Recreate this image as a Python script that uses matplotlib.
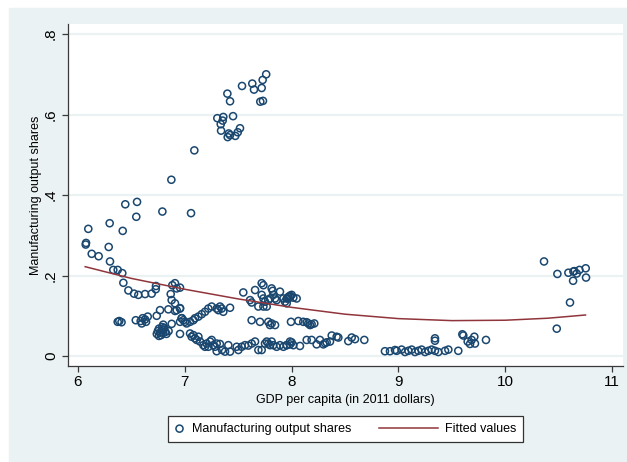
import numpy as np
import matplotlib
matplotlib.use("Agg")
import matplotlib.pyplot as plt
from matplotlib.patches import Rectangle
from matplotlib.legend_handler import HandlerLine2D

plt.rcParams['font.family'] = ['Liberation Sans', 'DejaVu Sans']

####### scatter data: log GDP per capita vs manufacturing output share
# high values, poorest countries
x_left = [6.876, 6.445, 6.555, 6.548, 6.792, 7.06, 6.299, 6.421, 6.099, 6.078,
          6.075, 6.29, 6.131, 6.196, 6.302, 6.333, 6.374, 6.417, 6.427, 7.091]
y_left = [0.438, 0.377, 0.383, 0.346, 0.359, 0.355, 0.330, 0.311, 0.316, 0.281,
          0.277, 0.271, 0.254, 0.248, 0.235, 0.214, 0.214, 0.206, 0.182, 0.511]

# top cluster
x_top = [7.763, 7.73, 7.633, 7.537, 7.649, 7.721, 7.40, 7.425, 7.708, 7.733, 7.306,
         7.362, 7.453, 7.356, 7.338, 7.341, 7.413, 7.425, 7.403, 7.474, 7.497, 7.518]
y_top = [0.700, 0.686, 0.677, 0.671, 0.662, 0.666, 0.652, 0.633, 0.632, 0.634, 0.591,
         0.594, 0.596, 0.585, 0.576, 0.560, 0.553, 0.549, 0.544, 0.547, 0.556, 0.566]

# lower left band
x_low = [6.474, 6.527, 6.567, 6.63, 6.692, 6.732, 6.73, 6.885, 6.91, 6.957, 6.926,
         6.87, 6.879, 6.91, 6.926, 6.91, 6.957, 6.77, 6.848, 6.739,
         6.374, 6.389, 6.41, 6.543, 6.589, 6.608, 6.63, 6.655, 6.599, 6.639,
         6.74, 6.75, 6.76, 6.77, 6.78, 6.79, 6.80, 6.81, 6.82, 6.83, 6.76, 6.79,
         6.85, 6.80, 6.957, 6.957, 6.973, 6.80, 6.879]
y_low = [0.163, 0.155, 0.152, 0.154, 0.155, 0.174, 0.166, 0.176, 0.181, 0.170, 0.168,
         0.154, 0.139, 0.131, 0.114, 0.112, 0.119, 0.114, 0.116, 0.100,
         0.085, 0.087, 0.084, 0.089, 0.087, 0.094, 0.091, 0.098, 0.081, 0.085,
         0.055, 0.062, 0.068, 0.058, 0.052, 0.065, 0.058, 0.070, 0.060, 0.055, 0.050, 0.072,
         0.062, 0.066, 0.055, 0.085, 0.094, 0.078, 0.080]

# middle-income countries
x_mid = [6.957, 6.973, 6.988, 7.004, 7.019, 7.051, 7.082, 7.097, 7.129, 7.160, 7.191,
         7.222, 7.253, 7.300, 7.316, 7.331, 7.347, 7.362, 7.425,
         7.051, 7.066, 7.082, 7.097, 7.113, 7.129, 7.144, 7.175, 7.191, 7.206, 7.222,
         7.238, 7.253, 7.269, 7.284, 7.300, 7.300, 7.33, 7.35,
         7.378, 7.409, 7.425, 7.487, 7.503, 7.534, 7.565, 7.596, 7.627, 7.659, 7.690,
         7.721, 7.752, 7.768, 7.783, 7.799, 7.814, 7.830, 7.861, 7.892, 7.924, 7.955, 7.986,
         7.549, 7.612, 7.627, 7.659, 7.721, 7.737, 7.721, 7.737, 7.752, 7.768, 7.783,
         7.799, 7.814, 7.824, 7.830, 7.846, 7.861, 7.892, 7.924, 7.939, 7.955, 7.970,
         7.986, 7.737, 7.690,
         7.627, 7.705, 7.783, 7.799, 7.814, 7.846]
y_mid = [0.118, 0.094, 0.089, 0.085, 0.081, 0.085, 0.089, 0.094, 0.098, 0.104, 0.110,
         0.118, 0.123, 0.118, 0.114, 0.123, 0.118, 0.110, 0.120,
         0.056, 0.048, 0.052, 0.044, 0.040, 0.048, 0.036, 0.027, 0.023, 0.031, 0.023,
         0.036, 0.040, 0.027, 0.023, 0.031, 0.012, 0.030, 0.015,
         0.011, 0.027, 0.011, 0.023, 0.015, 0.023, 0.027, 0.026, 0.031, 0.036, 0.015,
         0.015, 0.031, 0.036, 0.031, 0.027, 0.036, 0.027, 0.023, 0.027, 0.023, 0.027, 0.036,
         0.158, 0.139, 0.133, 0.164, 0.181, 0.176, 0.152, 0.143, 0.135, 0.123, 0.139,
         0.143, 0.168, 0.162, 0.152, 0.143, 0.139, 0.160, 0.143, 0.135, 0.131, 0.143,
         0.147, 0.123, 0.123,
         0.089, 0.085, 0.085, 0.077, 0.081, 0.077]

# upper-middle income
x_upper = [7.955, 7.970, 7.986, 8.001, 8.017, 8.048,
           7.995, 8.064, 8.110, 8.142, 8.157, 8.173, 8.188, 8.213,
           7.955, 7.986, 8.001, 8.017, 8.079, 8.142, 8.188, 8.235, 8.266, 8.298,
           8.313, 8.329, 8.360, 8.376, 8.422, 8.438, 8.531, 8.563, 8.594, 8.681,
           8.874, 8.921, 8.968,
           8.984, 9.030, 9.062, 9.093, 9.124, 9.155, 9.186, 9.217, 9.249, 9.280,
           9.311, 9.342, 9.373, 9.436, 9.467, 9.560,
           9.342, 9.342, 9.598, 9.607, 9.648, 9.685, 9.710, 9.716, 9.670, 9.819]
y_upper = [0.143, 0.147, 0.150, 0.152, 0.145, 0.143,
           0.085, 0.087, 0.085, 0.084, 0.081, 0.077, 0.079, 0.081,
           0.027, 0.029, 0.034, 0.027, 0.025, 0.040, 0.040, 0.029, 0.040, 0.029,
           0.032, 0.034, 0.036, 0.051, 0.048, 0.046, 0.037, 0.046, 0.042, 0.040,
           0.012, 0.012, 0.015,
           0.013, 0.016, 0.010, 0.013, 0.016, 0.010, 0.013, 0.016, 0.010, 0.013,
           0.016, 0.013, 0.010, 0.013, 0.016, 0.013,
           0.038, 0.044, 0.054, 0.051, 0.036, 0.040, 0.048, 0.031, 0.030, 0.040]

# rich countries
x_rich = [10.362, 10.487, 10.590, 10.637, 10.668, 10.693, 10.752, 10.646,
          10.634, 10.755, 10.605, 10.481]
y_rich = [0.235, 0.204, 0.207, 0.210, 0.205, 0.214, 0.218, 0.211,
          0.187, 0.195, 0.133, 0.068]

# fitted values (quadratic fit)
x_fit = [6.07, 6.5, 7.0, 7.5, 8.0, 8.5, 9.0, 9.5, 10.0, 10.4, 10.75]
y_fit = [0.222, 0.193, 0.166, 0.142, 0.121, 0.104, 0.093, 0.088, 0.089, 0.094, 0.102]

x = x_left + x_top + x_low + x_mid + x_upper + x_rich
y = y_left + y_top + y_low + y_mid + y_upper + y_rich

navy = '#1A476F'
maroon = '#90353B'
bg = '#EAF2F3'


class LongLine(HandlerLine2D):
    # line key drawn longer to the left, like Stata's legend keys
    def create_artists(self, legend, orig_handle, xdescent, ydescent,
                       width, height, fontsize, trans):
        extra = 3.9 * fontsize
        return super().create_artists(legend, orig_handle, xdescent + extra, ydescent,
                                      width + extra, height, fontsize, trans)


fig = plt.figure(figsize=(6.27, 4.62), dpi=100, facecolor='white')
fig.patches.append(Rectangle((9 / 627, 0), 618 / 627, 454 / 462,
                             transform=fig.transFigure, color=bg, zorder=-5))

ax = fig.add_axes([68.3 / 627, 1 - 365.7 / 462, 554.4 / 627, 341.7 / 462])
ax.set_facecolor('white')

ax.yaxis.grid(True, color=bg, lw=1.6)
ax.set_axisbelow(True)

pts = ax.scatter(x, y, s=26, facecolors='none', edgecolors=navy, linewidths=1.1,
                 label='Manufacturing output shares', zorder=3)
fit, = ax.plot(x_fit, y_fit, color=maroon, lw=1.1, label='Fitted values', zorder=4)

ax.set_xlim(5.912, 11.098)
ax.set_ylim(-0.024, 0.825)
ax.set_xticks([6, 7, 8, 9, 10, 11])
ax.set_yticks([0, 0.2, 0.4, 0.6, 0.8])
ax.set_yticklabels(['0', '.2', '.4', '.6', '.8'], rotation=90, va='center')

for s in ['top', 'right']:
    ax.spines[s].set_visible(False)
for s in ['left', 'bottom']:
    ax.spines[s].set_color('#3a3a3a')
    ax.spines[s].set_linewidth(0.9)
ax.tick_params(axis='both', colors='#3a3a3a', length=4, width=0.9, labelsize=11,
               labelcolor='black')
ax.tick_params(axis='x', pad=3)
ax.tick_params(axis='y', pad=3.5)

ax.set_xlabel('GDP per capita (in 2011 dollars)', fontsize=9, labelpad=3.5)
ax.set_ylabel('Manufacturing output shares', fontsize=9, labelpad=1)

leg = ax.legend([pts, fit], ['Manufacturing output shares', 'Fitted values'],
                loc='center', bbox_to_anchor=(0.5, -0.185), ncol=2, fontsize=9,
                frameon=True, fancybox=False, framealpha=1, edgecolor='#333333',
                scatterpoints=1, handlelength=0.8, handletextpad=0.6,
                columnspacing=6.1, borderpad=0.55,
                handler_map={fit: LongLine()})
leg.get_frame().set_linewidth(0.9)

plt.savefig('out.png', dpi=100, facecolor='white')
